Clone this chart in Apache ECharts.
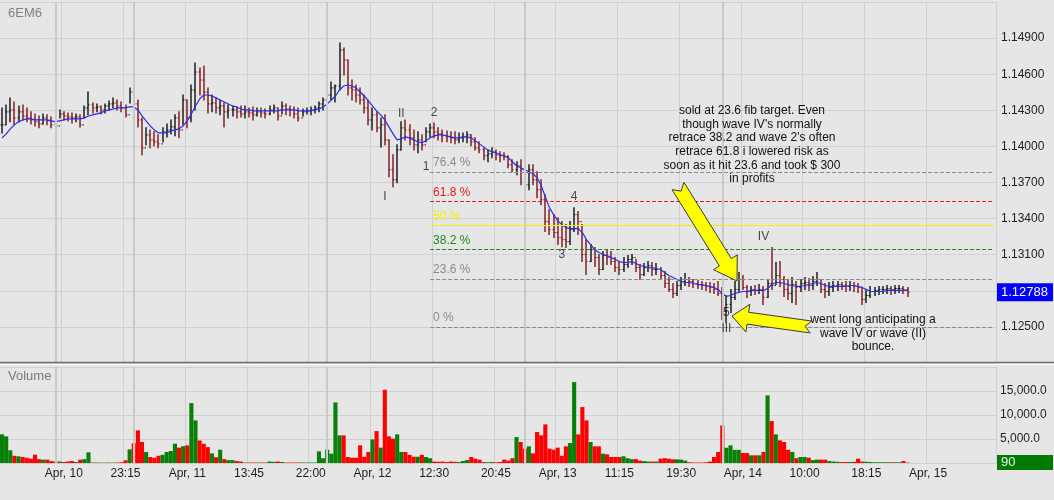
<!DOCTYPE html>
<html>
<head>
<meta charset="utf-8">
<script src="https://cdn.jsdelivr.net/npm/echarts@6/dist/echarts.min.js"></script>
<style>
html, body { margin: 0; padding: 0; background: #e6e6e6; }
#chart { width: 1054px; height: 500px; }
</style>
</head>
<body>
<div id="chart"></div>
<script>
// 6EM6 intraday bars, Apr 10 - Apr 14
var tickLabels = ['Apr, 10', '23:15', 'Apr, 11', '13:45', '22:00', 'Apr, 12', '12:30', '20:45',
    'Apr, 13', '11:15', '19:30', 'Apr, 14', '10:00', '18:15', 'Apr, 15'];
var slotCount = 242;   // bar slots on the time axis
var labelStep = 15;    // a time label every 15 bars

var highs = [1.14320,1.14345,1.14403,1.14369,1.14336,1.14345,1.14320,1.14287,1.14270,1.14253,
    1.14270,1.14262,1.14245,1.14237,1.14303,1.14287,1.14278,1.14278,1.14270,1.14262,
    1.14336,1.14452,1.14361,1.14353,1.14336,1.14353,1.14378,1.14403,1.14386,1.14369,
    1.14345,1.14486,1.14427,1.14386,1.14237,1.14154,1.14137,1.14121,1.14096,1.14154,
    1.14187,1.14220,1.14262,1.14287,1.14427,1.14386,1.14510,1.14693,1.14651,1.14668,
    1.14486,1.14427,1.14403,1.14386,1.14361,1.14345,1.14336,1.14328,1.14336,1.14336,
    1.14320,1.14328,1.14320,1.14320,1.14311,1.14336,1.14345,1.14320,1.14369,1.14353,
    1.14336,1.14328,1.14320,1.14311,1.14320,1.14328,1.14336,1.14369,1.14403,1.14452,
    1.14535,1.14510,1.14859,1.14817,1.14718,1.14552,1.14510,1.14486,1.14427,1.14386,
    1.14320,1.14287,1.14237,1.14262,1.14054,1.13930,1.14013,1.14204,1.14220,1.14179,
    1.14137,1.14121,1.14096,1.14154,1.14187,1.14195,1.14154,1.14137,1.14129,1.14121,
    1.14121,1.14112,1.14112,1.14121,1.14096,1.14071,1.14038,1.13988,1.13971,1.13988,
    1.13971,1.13955,1.13947,1.13922,1.13889,1.13872,1.13889,1.13855,1.13847,1.13847,
    1.13789,1.13723,1.13598,1.13474,1.13433,1.13408,1.13375,1.13350,1.13375,1.13491,
    1.13458,1.13350,1.13225,1.13184,1.13159,1.13101,1.13126,1.13143,1.13126,1.13076,
    1.13043,1.13076,1.13093,1.13101,1.13060,1.13018,1.13027,1.13043,1.13035,1.13027,
    1.12993,1.12960,1.12910,1.12861,1.12877,1.12910,1.12944,1.12910,1.12894,1.12886,
    1.12877,1.12869,1.12869,1.12861,1.12877,1.12828,1.12761,1.12811,1.12877,1.12952,
    1.12927,1.12844,1.12836,1.12844,1.12852,1.12836,1.12894,1.13159,1.13035,1.13043,
    1.12919,1.12894,1.12910,1.12877,1.12894,1.12910,1.12902,1.12919,1.12952,1.12894,
    1.12861,1.12869,1.12877,1.12877,1.12869,1.12877,1.12877,1.12869,1.12861,1.12828,
    1.12811,1.12836,1.12828,1.12836,1.12836,1.12844,1.12836,1.12844,1.12844,1.12836,
    1.12828];
var lows = [1.14112,1.14179,1.14204,1.14179,1.14204,1.14220,1.14204,1.14187,1.14170,1.14154,
    1.14187,1.14179,1.14154,1.14146,1.14237,1.14220,1.14212,1.14195,1.14204,1.14162,
    1.14237,1.14262,1.14278,1.14287,1.14270,1.14278,1.14303,1.14320,1.14303,1.14287,
    1.14245,1.14361,1.14303,1.14162,1.13930,1.14013,1.13988,1.14005,1.13988,1.14038,
    1.14079,1.14104,1.14088,1.14071,1.14179,1.14154,1.14204,1.14303,1.14427,1.14386,
    1.14278,1.14287,1.14278,1.14262,1.14162,1.14237,1.14253,1.14237,1.14245,1.14237,
    1.14245,1.14220,1.14253,1.14245,1.14237,1.14262,1.14278,1.14220,1.14270,1.14262,
    1.14253,1.14237,1.14212,1.14253,1.14270,1.14262,1.14278,1.14287,1.14303,1.14345,
    1.14386,1.14369,1.14469,1.14593,1.14427,1.14386,1.14369,1.14353,1.14278,1.14179,
    1.14137,1.14121,1.13996,1.14013,1.13748,1.13665,1.13698,1.13971,1.14054,1.14013,
    1.13971,1.13947,1.13971,1.14038,1.14079,1.14071,1.14054,1.14038,1.14038,1.14030,
    1.14021,1.14030,1.14038,1.14030,1.14005,1.13971,1.13947,1.13889,1.13872,1.13905,
    1.13889,1.13872,1.13889,1.13822,1.13789,1.13764,1.13681,1.13623,1.13640,1.13681,
    1.13574,1.13516,1.13292,1.13267,1.13242,1.13184,1.13167,1.13159,1.13184,1.13292,
    1.13267,1.13043,1.12935,1.13043,1.13002,1.12935,1.12977,1.13018,1.13018,1.12960,
    1.12935,1.12960,1.12993,1.13018,1.12960,1.12894,1.12927,1.12960,1.12927,1.12935,
    1.12894,1.12828,1.12794,1.12745,1.12761,1.12811,1.12844,1.12836,1.12828,1.12819,
    1.12811,1.12803,1.12786,1.12778,1.12761,1.12562,1.12537,1.12620,1.12728,1.12794,
    1.12811,1.12745,1.12761,1.12770,1.12778,1.12687,1.12745,1.12811,1.12852,1.12836,
    1.12753,1.12728,1.12703,1.12687,1.12794,1.12811,1.12803,1.12811,1.12844,1.12786,
    1.12745,1.12761,1.12794,1.12803,1.12811,1.12794,1.12803,1.12794,1.12786,1.12687,
    1.12703,1.12745,1.12761,1.12770,1.12778,1.12778,1.12770,1.12778,1.12786,1.12778,
    1.12753];
var closes = [1.14179,1.14287,1.14303,1.14237,1.14287,1.14253,1.14237,1.14220,1.14204,1.14187,
    1.14237,1.14212,1.14179,1.14170,1.14270,1.14253,1.14245,1.14237,1.14245,1.14179,
    1.14320,1.14345,1.14320,1.14328,1.14303,1.14336,1.14353,1.14361,1.14336,1.14320,
    1.14262,1.14452,1.14353,1.14220,1.13988,1.14096,1.14054,1.14038,1.14021,1.14121,
    1.14137,1.14162,1.14237,1.14137,1.14386,1.14237,1.14469,1.14618,1.14552,1.14452,
    1.14353,1.14361,1.14320,1.14336,1.14287,1.14303,1.14303,1.14287,1.14270,1.14287,
    1.14278,1.14262,1.14287,1.14278,1.14270,1.14303,1.14320,1.14253,1.14336,1.14311,
    1.14303,1.14270,1.14237,1.14287,1.14295,1.14303,1.14320,1.14353,1.14386,1.14427,
    1.14486,1.14502,1.14801,1.14718,1.14486,1.14469,1.14427,1.14386,1.14320,1.14220,
    1.14262,1.14154,1.14179,1.14054,1.13806,1.13723,1.13971,1.14154,1.14137,1.14071,
    1.14013,1.14054,1.14013,1.14121,1.14154,1.14121,1.14104,1.14088,1.14079,1.14071,
    1.14054,1.14071,1.14079,1.14096,1.14038,1.13988,1.13971,1.13922,1.13938,1.13955,
    1.13930,1.13922,1.13913,1.13847,1.13806,1.13839,1.13806,1.13681,1.13806,1.13723,
    1.13640,1.13557,1.13375,1.13308,1.13284,1.13242,1.13225,1.13209,1.13308,1.13433,
    1.13375,1.13101,1.13043,1.13143,1.13076,1.12977,1.13093,1.13076,1.13043,1.12993,
    1.12977,1.13018,1.13060,1.13076,1.12993,1.12935,1.12993,1.13010,1.12977,1.12977,
    1.12927,1.12861,1.12811,1.12778,1.12844,1.12877,1.12894,1.12877,1.12861,1.12852,
    1.12844,1.12836,1.12828,1.12811,1.12778,1.12629,1.12687,1.12745,1.12811,1.12894,
    1.12828,1.12794,1.12811,1.12803,1.12811,1.12745,1.12861,1.12844,1.12927,1.12894,
    1.12811,1.12778,1.12852,1.12828,1.12861,1.12869,1.12844,1.12877,1.12894,1.12811,
    1.12794,1.12828,1.12844,1.12852,1.12844,1.12836,1.12844,1.12836,1.12828,1.12728,
    1.12761,1.12794,1.12803,1.12811,1.12811,1.12819,1.12811,1.12819,1.12819,1.12811,
    1.12788];
var maLine = [1.14071,1.14104,1.14146,1.14179,1.14204,1.14220,1.14229,1.14229,1.14220,1.14220,
    1.14220,1.14220,1.14212,1.14204,1.14212,1.14220,1.14229,1.14229,1.14229,1.14229,
    1.14237,1.14253,1.14262,1.14270,1.14278,1.14295,1.14303,1.14311,1.14320,1.14320,
    1.14320,1.14328,1.14328,1.14303,1.14253,1.14212,1.14170,1.14137,1.14112,1.14112,
    1.14112,1.14129,1.14137,1.14146,1.14170,1.14212,1.14270,1.14336,1.14394,1.14427,
    1.14427,1.14419,1.14403,1.14386,1.14369,1.14353,1.14336,1.14328,1.14311,1.14303,
    1.14303,1.14295,1.14295,1.14295,1.14295,1.14295,1.14295,1.14295,1.14303,1.14303,
    1.14303,1.14303,1.14295,1.14295,1.14295,1.14295,1.14303,1.14311,1.14328,1.14353,
    1.14386,1.14419,1.14469,1.14502,1.14510,1.14502,1.14486,1.14452,1.14419,1.14378,
    1.14336,1.14295,1.14262,1.14220,1.14162,1.14104,1.14054,1.14063,1.14079,1.14071,
    1.14054,1.14038,1.14030,1.14046,1.14071,1.14088,1.14096,1.14096,1.14088,1.14079,
    1.14071,1.14071,1.14079,1.14079,1.14071,1.14046,1.14021,1.13996,1.13971,1.13955,
    1.13947,1.13930,1.13922,1.13905,1.13872,1.13839,1.13822,1.13806,1.13789,1.13773,
    1.13739,1.13673,1.13582,1.13491,1.13433,1.13383,1.13350,1.13325,1.13317,1.13317,
    1.13317,1.13284,1.13225,1.13184,1.13143,1.13118,1.13101,1.13093,1.13076,1.13060,
    1.13043,1.13035,1.13035,1.13043,1.13027,1.13010,1.13002,1.12993,1.12993,1.12985,
    1.12977,1.12952,1.12927,1.12910,1.12894,1.12877,1.12869,1.12869,1.12861,1.12852,
    1.12852,1.12844,1.12836,1.12828,1.12811,1.12778,1.12753,1.12761,1.12778,1.12786,
    1.12794,1.12794,1.12803,1.12803,1.12803,1.12803,1.12819,1.12852,1.12869,1.12869,
    1.12861,1.12852,1.12844,1.12836,1.12836,1.12844,1.12852,1.12861,1.12869,1.12861,
    1.12844,1.12836,1.12836,1.12836,1.12836,1.12836,1.12844,1.12844,1.12836,1.12828,
    1.12811,1.12794,1.12794,1.12794,1.12794,1.12803,1.12803,1.12803,1.12803,1.12803,
    1.12803];
var volumes = [5970,5550,2640,1500,1390,1250,1100,900,1730,800,
    700,700,400,300,300,200,300,400,200,700,
    800,2220,100,100,80,80,100,80,100,150,
    550,2840,4100,6800,4370,2300,1250,1100,1500,1700,
    2290,2500,4030,3200,3500,3680,12480,8880,4700,4000,
    3300,2000,1200,2770,800,600,600,400,300,100,
    100,100,100,100,100,300,250,300,200,100,
    100,100,100,100,100,100,100,2430,1000,2770,
    1940,12620,5760,5760,1250,1100,1100,3680,1300,2300,
    4920,6650,3200,15260,5550,5060,5960,2290,2290,1700,
    1300,1300,1700,1250,1000,300,250,300,200,300,
    250,200,400,600,1250,900,700,200,150,200,
    150,200,700,500,1000,5400,4370,3000,3470,2000,
    6450,5760,8040,3000,2770,3200,1500,3470,4160,16850,
    5960,11650,8880,4370,3470,3470,1940,1800,1250,1250,
    1250,1400,1000,800,800,500,400,300,300,300,
    900,1000,900,750,750,700,500,150,100,100,
    100,150,300,1250,2290,7830,3190,3680,2740,2740,
    2080,2080,1600,1600,1600,2290,14080,8740,5960,4720,
    4370,2770,2290,1000,1250,1250,1100,600,700,700,
    700,400,300,250,200,200,200,250,900,300,
    250,200,150,150,150,150,150,150,150,400,
    90];

var sessionBreaks = [13, 32, 79, 127, 175];

// fib retracement drawn from the low (0 %) to the swing high (100 %)
var fibLow = 1.12500;
var fibHigh = 1.14187;
var fibStartSlot = 104;
var fibRatios = [0, 23.6, 38.2, 50, 61.8, 76.4];

var waveTexts = ['I', 'II', '2', '1', '3', '4', '5', 'III', 'IV'];
var waveSlots = [93, 97, 105, 103, 136, 139, 176, 176, 185];
var wavePrices = [1.13582, 1.14270, 1.14278, 1.13831, 1.13101, 1.13582, 1.12620, 1.12488, 1.13250];

var noteSold = "sold at 23.6 fib target. Even\nthough wave IV's normally\nretrace 38.2 and wave 2's often\nretrace 61.8 i lowered risk as\nsoon as it hit 23.6 and took $ 300\nin profits";
var noteLong = "went long anticipating a\nwave IV or wave (II)\nbounce.";

var font = 'Liberation Sans, Arial, sans-serif';
var fibColors = {'0': '#8a8a8a', '23.6': '#8a8a8a', '38.2': '#1f8a1f', '50': '#f2f200', '61.8': '#e02020', '76.4': '#8a8a8a'};

var categories = [];
for (var i = 0; i < slotCount; i++) categories.push(String(i));
function isTick(i) {
    return i > 0 && i % labelStep === 0 && i / labelStep <= tickLabels.length;
}

var lastClose = closes[closes.length - 1];
var ohlc = [];
var volData = [];
for (var k = 0; k < closes.length; k++) {
    var open = k > 0 ? closes[k - 1] : closes[0];
    ohlc.push([k, open, closes[k], lows[k], highs[k]]);
    volData.push({value: volumes[k], itemStyle: {color: closes[k] >= open ? '#078007' : '#ff0000'}});
}

var fibLines = fibRatios.map(function (r) {
    var lvl = fibLow + (fibHigh - fibLow) * r / 100;
    var c = fibColors[String(r)];
    return [{
        coord: [fibStartSlot, lvl],
        lineStyle: {color: c, type: r === 50 ? 'solid' : 'dashed', width: 1},
        label: {show: true, position: 'insideStartTop', formatter: r + ' %', color: c,
            fontSize: 12, fontFamily: font, distance: 3}
    }, {coord: [slotCount - 1, lvl]}];
});

var sessionLines = sessionBreaks.map(function (s) { return {xAxis: s}; });

var waveData = waveTexts.map(function (t, j) { return [waveSlots[j], wavePrices[j], t]; });

function renderOHLC(params, api) {
    var x = api.value(0);
    var o = api.coord([x, api.value(1)]);
    var c = api.coord([x, api.value(2)]);
    var l = api.coord([x, api.value(3)]);
    var h = api.coord([x, api.value(4)]);
    var color = api.value(2) >= api.value(1) ? '#101010' : '#7a1414';
    var px = Math.round(h[0]);
    return {
        type: 'group',
        children: [
            {type: 'line', shape: {x1: px, y1: h[1] - 0.5, x2: px, y2: l[1] + 0.5}, style: {stroke: color, lineWidth: 1.4}},
            {type: 'line', shape: {x1: px - 1.5, y1: o[1], x2: px, y2: o[1]}, style: {stroke: color, lineWidth: 1}},
            {type: 'line', shape: {x1: px, y1: c[1], x2: px + 1.5, y2: c[1]}, style: {stroke: color, lineWidth: 1}}
        ]
    };
}

function arrow(tx, ty, px, py, w, hw, hl, nd) {
    var dx = px - tx, dy = py - ty, len = Math.sqrt(dx * dx + dy * dy);
    var ux = dx / len, uy = dy / len, nx = -uy, ny = ux;
    var bx = px - ux * hl, by = py - uy * hl;
    return [[tx + nx * w, ty + ny * w], [bx + nx * w, by + ny * w], [bx + nx * hw, by + ny * hw],
        [px, py], [bx - nx * hw, by - ny * hw], [bx - nx * w, by - ny * w],
        [tx - nx * w, ty - ny * w], [tx + ux * nd, ty + uy * nd]];
}

var gridLineColor = '#d0d0d0';
var sessionColor = '#c9c9c9';
var myChart = echarts.init(document.getElementById('chart'));
var option = {
    animation: false,
    backgroundColor: '#e6e6e6',
    textStyle: {fontFamily: font},
    grid: [
        {left: 0, right: 58, top: 2, height: 361},
        {left: 0, right: 58, top: 367, height: 96}
    ],
    xAxis: [
        {type: 'category', gridIndex: 0, data: categories, boundaryGap: true,
            axisLine: {show: false}, axisTick: {show: false}, axisLabel: {show: false},
            splitLine: {show: true, interval: isTick, lineStyle: {color: gridLineColor}}},
        {type: 'category', gridIndex: 1, data: categories, boundaryGap: true,
            axisLine: {show: false}, axisTick: {show: false},
            axisLabel: {show: true, interval: isTick, color: '#1e1e1e', fontSize: 12, margin: 5,
                formatter: function (v, i) { return tickLabels[i / labelStep - 1] || ''; }},
            splitLine: {show: true, interval: isTick, lineStyle: {color: gridLineColor}}}
    ],
    yAxis: [
        {type: 'value', gridIndex: 0, position: 'right', min: 1.122, max: 1.152, interval: 0.003,
            axisLine: {show: false}, axisTick: {show: false},
            splitLine: {lineStyle: {color: gridLineColor}},
            axisLabel: {color: '#1e1e1e', fontSize: 12, margin: 5,
                formatter: function (v) {
                    if (v > 1.1515 || v < 1.1225 || Math.abs(v - lastClose) < 0.0015) return '';
                    return v.toFixed(5);
                }}},
        {type: 'value', gridIndex: 1, position: 'right', min: 0, max: 20000, interval: 5000,
            axisLine: {show: false}, axisTick: {show: false},
            splitLine: {lineStyle: {color: gridLineColor}},
            axisLabel: {color: '#1e1e1e', fontSize: 12, margin: 4,
                formatter: function (v) {
                    if (v === 0 || v >= 20000) return '';
                    return v.toLocaleString('en-US', {minimumFractionDigits: 1});
                }}}
    ],
    series: [
        {   // session dividers + fib levels
            type: 'line', xAxisIndex: 0, yAxisIndex: 0, data: [], z: 1, silent: true,
            markLine: {
                symbol: 'none', silent: true, animation: false, precision: 5,
                label: {show: false},
                data: sessionLines.map(function (d) {
                    return {xAxis: d.xAxis, lineStyle: {color: sessionColor, width: 2, type: 'solid'}};
                }).concat(fibLines)
            }
        },
        {
            type: 'custom', xAxisIndex: 0, yAxisIndex: 0, z: 3, silent: true,
            renderItem: renderOHLC,
            encode: {x: 0, y: [1, 2, 3, 4]},
            data: ohlc
        },
        {
            name: 'MA', type: 'line', xAxisIndex: 0, yAxisIndex: 0, z: 4, silent: true,
            data: maLine, symbol: 'none', lineStyle: {color: '#2c2ce8', width: 1.2},
            markLine: {
                symbol: 'none', silent: true, animation: false, precision: 5,
                lineStyle: {color: 'transparent'},
                data: [{yAxis: lastClose}],
                label: {show: true, position: 'end', distance: 1, formatter: lastClose.toFixed(5),
                    backgroundColor: '#0000ff', color: '#ffffff', fontSize: 13, fontFamily: font,
                    padding: [3, 4, 2, 4], width: 48}
            }
        },
        {
            type: 'scatter', xAxisIndex: 0, yAxisIndex: 0, z: 5, silent: true,
            data: waveData, symbolSize: 1, itemStyle: {color: 'transparent'},
            label: {show: true, position: 'inside', color: '#1a1a1a', fontSize: 12,
                formatter: function (p) { return p.value[2]; }}
        },
        {
            type: 'bar', xAxisIndex: 1, yAxisIndex: 1, data: volData, z: 3, silent: true,
            barCategoryGap: '0%',
            markLine: {
                symbol: 'none', silent: true, animation: false, precision: 0,
                data: sessionLines.map(function (d) {
                    return {xAxis: d.xAxis, lineStyle: {color: sessionColor, width: 2, type: 'solid'}, label: {show: false}};
                }).concat([{
                    yAxis: volumes[volumes.length - 1],
                    lineStyle: {color: 'transparent'},
                    label: {show: true, position: 'end', distance: 1, formatter: String(volumes[volumes.length - 1]),
                        backgroundColor: '#007a00', color: '#e8ffe8', fontSize: 13, fontFamily: font,
                        padding: [1, 4, 1, 4], width: 48}
                }])
            }
        }
    ],
    graphic: [
        {type: 'text', left: 8, top: 7, style: {text: '6EM6', fill: '#808080', fontSize: 13, fontFamily: font}},
        {type: 'text', left: 8, top: 370, style: {text: 'Volume', fill: '#7a7a7a', fontSize: 13, fontFamily: font}},
        {type: 'line', shape: {x1: 0, y1: 362.5, x2: 1054, y2: 362.5}, style: {stroke: '#707070', lineWidth: 1.5}, z: 50},
        {type: 'line', shape: {x1: 0, y1: 364.5, x2: 1054, y2: 364.5}, style: {stroke: '#ffffff', lineWidth: 1}, z: 50},
        {type: 'text', x: 752, y: 104, z: 60,
            style: {text: noteSold, fill: '#111', fontSize: 12, fontFamily: font, align: 'center', verticalAlign: 'top', lineHeight: 13.6}},
        {type: 'text', x: 873, y: 313, z: 60,
            style: {text: noteLong, fill: '#111', fontSize: 12, fontFamily: font, align: 'center', verticalAlign: 'top', lineHeight: 13.6}},
        {type: 'polygon', z: 70, shape: {points: arrow(678, 186, 737, 281, 7, 14, 22, 6)},
            style: {fill: '#ffff00', stroke: '#3a3a3a', lineWidth: 1}},
        {type: 'polygon', z: 70, shape: {points: arrow(811, 327, 732, 316, 6, 14, 16, 6)},
            style: {fill: '#ffff00', stroke: '#3a3a3a', lineWidth: 1}}
    ]
};
myChart.setOption(option);
</script>
</body>
</html>
